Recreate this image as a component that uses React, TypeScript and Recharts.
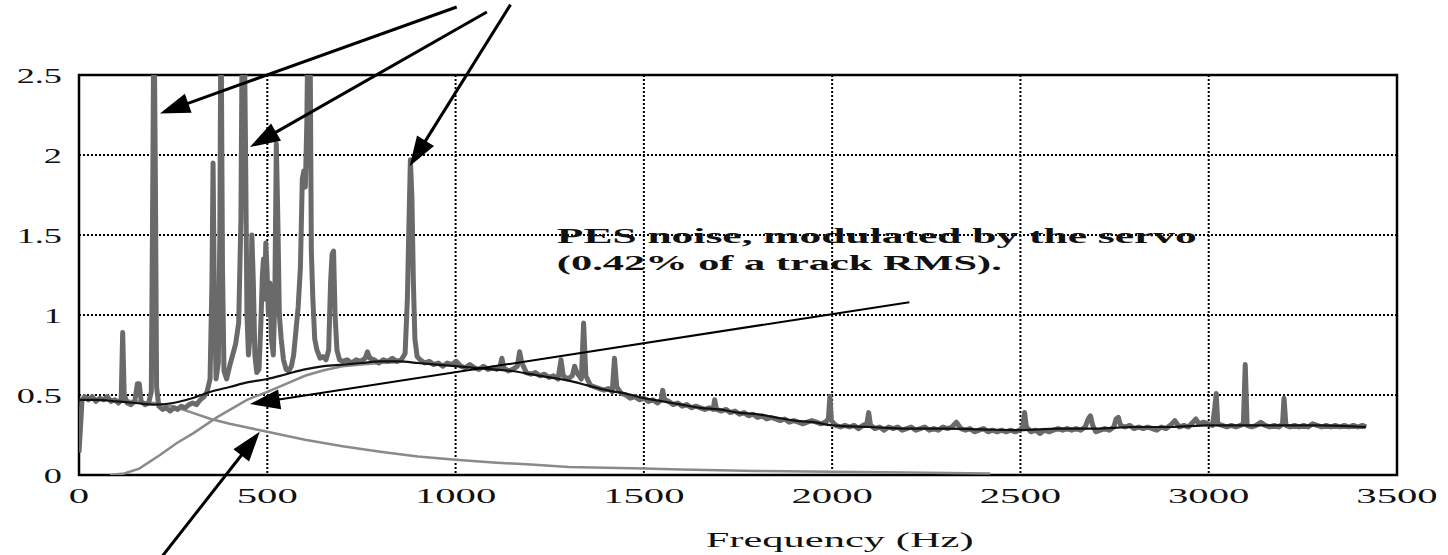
import React from "react";
import { LineChart, Line, XAxis, YAxis, CartesianGrid, ReferenceArea, ReferenceLine, ReferenceDot } from "recharts";

// measured PES spectrum [Hz, amplitude]
const pesSpectrum: [number, number][] = [
  [0, 0.14], [4, 0.3], [8, 0.47], [15, 0.49], [25, 0.47], [35, 0.49], [45, 0.46], [55, 0.48], [65, 0.47], [75, 0.49],
  [85, 0.46], [95, 0.47], [105, 0.45], [112, 0.47], [116, 0.89], [120, 0.5], [128, 0.45], [138, 0.44], [148, 0.46], [155, 0.57],
  [160, 0.57], [165, 0.46], [175, 0.44], [185, 0.45], [192, 0.52], [196, 1.85], [199, 3.0], [203, 1.8], [206, 0.55], [212, 0.43],
  [222, 0.41], [232, 0.42], [242, 0.4], [252, 0.42], [262, 0.41], [272, 0.43], [282, 0.42], [292, 0.44], [302, 0.45], [312, 0.44],
  [322, 0.47], [332, 0.49], [340, 0.52], [348, 0.6], [353, 1.2], [356, 1.95], [359, 1.2], [364, 0.6], [370, 0.7], [374, 1.5],
  [377, 3.0], [381, 1.3], [385, 0.65], [392, 0.6], [400, 0.68], [408, 0.75], [416, 0.82], [424, 0.95], [430, 1.6], [434, 3.0],
  [438, 3.0], [442, 2.1], [446, 1.0], [450, 0.75], [455, 0.9], [459, 1.5], [463, 1.2], [467, 0.75], [472, 0.64], [478, 0.66],
  [483, 0.95], [487, 1.25], [490, 1.35], [493, 1.1], [496, 1.45], [499, 1.3], [503, 1.0], [507, 1.2], [511, 0.85], [516, 0.75],
  [520, 1.1], [524, 2.07], [528, 1.6], [532, 1.0], [537, 0.85], [543, 0.72], [550, 0.66], [557, 0.65], [564, 0.68], [570, 0.75],
  [576, 0.9], [582, 1.05], [588, 1.3], [593, 1.85], [597, 1.9], [601, 1.8], [605, 2.2], [609, 3.0], [613, 3.0], [617, 1.4],
  [621, 1.1], [626, 0.85], [632, 0.78], [640, 0.73], [648, 0.74], [656, 0.72], [663, 0.78], [668, 1.2], [672, 1.38], [676, 1.4],
  [680, 1.0], [685, 0.78], [692, 0.72], [700, 0.71], [712, 0.72], [724, 0.7], [736, 0.72], [748, 0.71], [760, 0.73], [766, 0.77],
  [772, 0.73], [784, 0.72], [796, 0.7], [808, 0.72], [820, 0.71], [832, 0.73], [844, 0.71], [856, 0.72], [866, 0.76], [872, 1.1],
  [876, 1.55], [880, 1.97], [884, 1.74], [888, 1.2], [892, 0.85], [898, 0.74], [906, 0.72], [918, 0.7], [930, 0.71], [942, 0.69],
  [954, 0.7], [966, 0.68], [978, 0.7], [990, 0.69], [1002, 0.71], [1014, 0.68], [1026, 0.67], [1038, 0.69], [1050, 0.67], [1062, 0.66],
  [1074, 0.68], [1086, 0.66], [1098, 0.67], [1110, 0.66], [1118, 0.68], [1123, 0.73], [1128, 0.67], [1140, 0.65], [1152, 0.66], [1164, 0.68],
  [1170, 0.77], [1176, 0.7], [1188, 0.64], [1200, 0.63], [1212, 0.64], [1224, 0.62], [1236, 0.63], [1248, 0.61], [1260, 0.62], [1272, 0.6],
  [1280, 0.72], [1286, 0.62], [1298, 0.6], [1310, 0.62], [1316, 0.68], [1322, 0.64], [1334, 0.6], [1340, 0.95], [1346, 0.62], [1358, 0.56],
  [1370, 0.55], [1382, 0.54], [1394, 0.53], [1406, 0.54], [1416, 0.52], [1422, 0.73], [1428, 0.55], [1440, 0.51], [1452, 0.5], [1464, 0.48],
  [1476, 0.49], [1488, 0.47], [1500, 0.48], [1512, 0.46], [1524, 0.47], [1536, 0.45], [1546, 0.47], [1550, 0.53], [1555, 0.47], [1566, 0.46],
  [1578, 0.44], [1590, 0.45], [1602, 0.43], [1614, 0.44], [1626, 0.42], [1638, 0.43], [1650, 0.42], [1662, 0.41], [1674, 0.42], [1684, 0.41],
  [1688, 0.47], [1693, 0.41], [1706, 0.4], [1718, 0.41], [1730, 0.39], [1742, 0.4], [1754, 0.38], [1766, 0.39], [1778, 0.37], [1790, 0.38],
  [1802, 0.36], [1814, 0.37], [1826, 0.35], [1838, 0.36], [1850, 0.35], [1862, 0.34], [1874, 0.35], [1886, 0.33], [1898, 0.34], [1910, 0.33],
  [1922, 0.32], [1934, 0.33], [1946, 0.34], [1958, 0.33], [1970, 0.32], [1982, 0.33], [1990, 0.35], [1994, 0.49], [1998, 0.34], [2010, 0.31],
  [2022, 0.3], [2034, 0.31], [2046, 0.3], [2058, 0.31], [2070, 0.29], [2082, 0.31], [2092, 0.32], [2097, 0.39], [2102, 0.31], [2114, 0.29],
  [2126, 0.3], [2138, 0.28], [2150, 0.3], [2162, 0.29], [2174, 0.3], [2186, 0.28], [2198, 0.29], [2210, 0.3], [2222, 0.28], [2234, 0.29],
  [2246, 0.3], [2258, 0.28], [2270, 0.29], [2282, 0.28], [2294, 0.3], [2306, 0.29], [2318, 0.3], [2330, 0.33], [2342, 0.29], [2354, 0.28],
  [2366, 0.29], [2378, 0.27], [2390, 0.28], [2402, 0.29], [2414, 0.27], [2426, 0.28], [2438, 0.27], [2450, 0.28], [2462, 0.27], [2474, 0.28],
  [2486, 0.27], [2498, 0.28], [2506, 0.3], [2511, 0.39], [2516, 0.3], [2528, 0.27], [2540, 0.28], [2552, 0.26], [2564, 0.28], [2576, 0.27],
  [2588, 0.28], [2600, 0.29], [2612, 0.28], [2624, 0.29], [2636, 0.28], [2648, 0.29], [2660, 0.28], [2672, 0.3], [2680, 0.35], [2686, 0.37],
  [2692, 0.31], [2700, 0.27], [2712, 0.28], [2724, 0.29], [2736, 0.28], [2748, 0.3], [2754, 0.35], [2760, 0.36], [2766, 0.31], [2778, 0.3],
  [2790, 0.31], [2802, 0.29], [2814, 0.3], [2826, 0.29], [2838, 0.3], [2850, 0.29], [2862, 0.28], [2874, 0.3], [2886, 0.29], [2898, 0.31],
  [2910, 0.34], [2922, 0.3], [2934, 0.31], [2946, 0.3], [2958, 0.33], [2966, 0.35], [2974, 0.32], [2986, 0.33], [2998, 0.32], [3010, 0.31],
  [3016, 0.42], [3020, 0.51], [3024, 0.32], [3036, 0.31], [3048, 0.3], [3060, 0.31], [3072, 0.3], [3084, 0.31], [3092, 0.32], [3097, 0.69],
  [3102, 0.31], [3114, 0.3], [3126, 0.31], [3138, 0.33], [3150, 0.31], [3162, 0.3], [3174, 0.31], [3186, 0.3], [3196, 0.32], [3200, 0.48],
  [3205, 0.31], [3216, 0.3], [3228, 0.31], [3240, 0.3], [3252, 0.31], [3264, 0.3], [3276, 0.32], [3288, 0.31], [3300, 0.3], [3312, 0.31],
  [3324, 0.3], [3336, 0.31], [3348, 0.3], [3360, 0.31], [3372, 0.3], [3384, 0.31], [3396, 0.3], [3408, 0.31], [3418, 0.3],
];

// modelled PES noise shaped by the servo
const servoModel: [number, number][] = [
  [0, 0.47], [50, 0.47], [100, 0.46], [150, 0.45], [200, 0.44], [250, 0.45], [300, 0.48], [350, 0.52], [400, 0.55], [450, 0.58],
  [500, 0.6], [550, 0.63], [600, 0.66], [650, 0.68], [700, 0.69], [750, 0.7], [800, 0.71], [850, 0.71], [900, 0.7], [950, 0.69],
  [1000, 0.68], [1050, 0.67], [1100, 0.66], [1150, 0.65], [1200, 0.63], [1250, 0.61], [1300, 0.59], [1350, 0.56], [1400, 0.53], [1450, 0.51],
  [1500, 0.48], [1550, 0.46], [1600, 0.44], [1650, 0.42], [1700, 0.41], [1750, 0.39], [1800, 0.38], [1850, 0.36], [1900, 0.34], [1950, 0.33],
  [2000, 0.31], [2100, 0.3], [2200, 0.29], [2300, 0.29], [2400, 0.285], [2500, 0.28], [2600, 0.29], [2700, 0.29], [2800, 0.3], [2900, 0.3],
  [3000, 0.31], [3100, 0.31], [3200, 0.31], [3300, 0.31], [3418, 0.3],
];

// rising component
const risingPart: [number, number][] = [
  [82, 0], [120, 0.01], [160, 0.04], [215, 0.125], [260, 0.2], [303, 0.26], [366, 0.36], [446, 0.47], [500, 0.52], [550, 0.57],
  [600, 0.62], [650, 0.655], [700, 0.68], [750, 0.69], [800, 0.7], [850, 0.705],
];

// decaying component
const decayingPart: [number, number][] = [
  [0, 0.47], [100, 0.47], [200, 0.45], [250, 0.43], [300, 0.39], [350, 0.35], [400, 0.32], [450, 0.295], [500, 0.27], [600, 0.22],
  [700, 0.18], [800, 0.145], [900, 0.115], [1000, 0.095], [1100, 0.078], [1200, 0.065], [1300, 0.05], [1400, 0.045], [1500, 0.04], [1600, 0.035],
  [1700, 0.03], [1800, 0.025], [2000, 0.02], [2200, 0.015], [2420, 0.01],
];

const xTicks = [0, 500, 1000, 1500, 2000, 2500, 3000, 3500];
const yTicks = [0, 0.5, 1, 1.5, 2, 2.5];

// annotation arrows [tail Hz, tail amp, tip Hz, tip amp, width]
const arrows: [number, number, number, number, number][] = [
  [1003, 2.925, 215, 2.26, 3],
  [1083, 2.894, 454, 2.05, 3],
  [1146, 2.94, 878, 1.93, 3],
  [2205, 1.08, 454, 0.444, 2],
  [207, -0.55, 480, 0.27, 3],
];

const toRows = (pts: [number, number][]) => pts.map(([f, v]) => ({ f, v }));

const FONT = "'Liberation Serif', 'Times New Roman', serif";

function XTick({ x, y, payload }: any) {
  return (
    <text transform={`translate(${x},${y}) scale(1.85,1)`} dy="0.8em" textAnchor="middle" fontFamily={FONT} fontSize={22} fill="#111">
      {payload.value}
    </text>
  );
}

function YTick({ x, y, payload }: any) {
  return (
    <text transform={`translate(${x},${y}) scale(1.65,1)`} dy="0.35em" textAnchor="end" fontFamily={FONT} fontSize={22} fill="#111">
      {payload.value}
    </text>
  );
}

function Arrow(props: any) {
  const { x1, y1, x2, y2, width } = props;
  const dx = x2 - x1;
  const dy = y2 - y1;
  const len = Math.sqrt(dx * dx + dy * dy) || 1;
  const ux = dx / len;
  const uy = dy / len;
  const head = 30;
  const half = 10;
  const bx = x2 - ux * head;
  const by = y2 - uy * head;
  return (
    <g>
      <line x1={x1} y1={y1} x2={bx + ux * 4} y2={by + uy * 4} stroke="#000" strokeWidth={width} />
      <polygon
        points={`${x2},${y2} ${bx - uy * half},${by + ux * half} ${bx + uy * half},${by - ux * half}`}
        fill="#000"
      />
    </g>
  );
}

export default function App() {
  return (
    <div style={{ position: "absolute", left: 0, top: 0, width: 1448, height: 555, background: "#fff" }}>
      <LineChart width={1448} height={555} margin={{ top: 75, right: 51, left: 19, bottom: 50 }}>
        <CartesianGrid stroke="#000" strokeWidth={2} strokeDasharray="2 2" />
        <XAxis
          dataKey="f"
          type="number"
          domain={[0, 3500]}
          ticks={xTicks}
          height={30}
          axisLine={false}
          tickLine={false}
          tickMargin={4}
          tick={<XTick />}
          allowDataOverflow
        />
        <YAxis
          type="number"
          domain={[0, 2.5]}
          ticks={yTicks}
          width={60}
          axisLine={false}
          tickLine={false}
          tickMargin={11}
          tick={<YTick />}
          allowDataOverflow
        />
        <Line data={toRows(decayingPart)} dataKey="v" type="linear" dot={false} stroke="#8a8a8a" strokeWidth={2.5} isAnimationActive={false} />
        <Line data={toRows(risingPart)} dataKey="v" type="linear" dot={false} stroke="#8a8a8a" strokeWidth={2.5} isAnimationActive={false} />
        <Line data={toRows(pesSpectrum)} dataKey="v" type="linear" dot={false} stroke="#6a6a6a" strokeWidth={5} strokeLinejoin="round" isAnimationActive={false} />
        <Line data={toRows(servoModel)} dataKey="v" type="monotone" dot={false} stroke="#111" strokeWidth={2.2} isAnimationActive={false} />
        <ReferenceArea x1={0} x2={3500} y1={0} y2={2.5} fill="none" stroke="#000" strokeWidth={2.5} ifOverflow="visible" />
        {arrows.map(([fx, fy, tx, ty, w], i) => (
          <ReferenceLine
            key={i}
            segment={[{ x: fx, y: fy }, { x: tx, y: ty }]}
            ifOverflow="visible"
            shape={(p: any) => <Arrow {...p} width={w} />}
          />
        ))}
        <ReferenceDot
          x={1269}
          y={1.45}
          ifOverflow="visible"
          shape={(p: any) => (
            <text x={p.cx} y={p.cy} textLength={640} lengthAdjust="spacingAndGlyphs" fontFamily={FONT} fontWeight="bold" fontSize={22} fill="#111">
              PES noise, modulated by the servo
            </text>
          )}
        />
        <ReferenceDot
          x={1269}
          y={1.28}
          ifOverflow="visible"
          shape={(p: any) => (
            <text x={p.cx} y={p.cy} textLength={445} lengthAdjust="spacingAndGlyphs" fontFamily={FONT} fontWeight="bold" fontSize={22} fill="#111">
              (0.42% of a track RMS).
            </text>
          )}
        />
        <ReferenceDot
          x={2020}
          y={-0.45}
          ifOverflow="visible"
          shape={(p: any) => (
            <text x={p.cx} y={p.cy} textAnchor="middle" textLength={268} lengthAdjust="spacingAndGlyphs" fontFamily={FONT} fontSize={22} fill="#111">
              Frequency (Hz)
            </text>
          )}
        />
      </LineChart>
    </div>
  );
}
